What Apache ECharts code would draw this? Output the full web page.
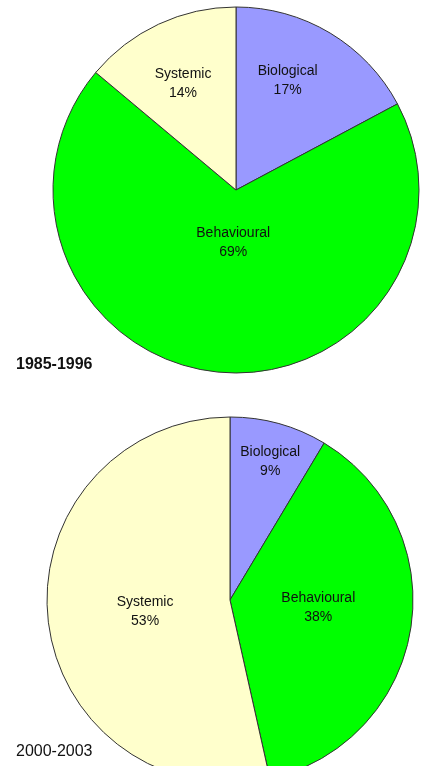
<!DOCTYPE html>
<html>
<head>
<meta charset="utf-8">
<script src="https://cdn.jsdelivr.net/npm/echarts@6/dist/echarts.min.js"></script>
<style>
  html, body { margin: 0; padding: 0; background: #fff; }
  #main { width: 421px; height: 766px; }
</style>
</head>
<body>
<div id="main"></div>
<script>
var categories = ['Biological', 'Behavioural', 'Systemic'];
var values1985 = [17.2, 68.9, 13.9];
var values2000 = [8.6, 37.9, 53.5];
var periods = ['1985-1996', '2000-2003'];
var colors = ['#9999FF', '#00FF00', '#FFFFCC'];

// nudge the inside labels to where the original sits them
var shiftTop = [[3, -28], [7, -41], [-13, -21]];
var shiftBottom = [[15, -47], [-5, -7], [9, 1]];

var myChart = echarts.init(document.getElementById('main'));

function toData(vals) {
    return categories.map(function (c, i) {
        return { name: c, value: vals[i], itemStyle: { color: colors[i] } };
    });
}

function pieSeries(vals, center, shift) {
    return {
        type: 'pie',
        center: center,
        radius: [0, 183],
        startAngle: 90,
        clockwise: true,
        percentPrecision: 0,
        avoidLabelOverlap: false,
        silent: true,
        itemStyle: { borderColor: '#333', borderWidth: 1 },
        label: {
            show: true,
            position: 'inside',
            formatter: '{b}\n{d}%',
            fontFamily: 'Liberation Sans, Arial, sans-serif',
            fontSize: 14,
            lineHeight: 19,
            color: '#111'
        },
        labelLine: { show: false },
        labelLayout: function (p) {
            return { dx: shift[p.dataIndex][0], dy: shift[p.dataIndex][1] };
        },
        emphasis: { disabled: true },
        data: toData(vals)
    };
}

var option = {
    animation: false,
    backgroundColor: '#fff',
    title: [
        {
            text: periods[0], left: 16, top: 357, padding: 0,
            textStyle: { fontFamily: 'Liberation Sans, Arial, sans-serif', fontSize: 16, fontWeight: 'bold', color: '#111' }
        },
        {
            text: periods[1], left: 16, top: 744, padding: 0,
            textStyle: { fontFamily: 'Liberation Sans, Arial, sans-serif', fontSize: 16, fontWeight: 'normal', color: '#111' }
        }
    ],
    series: [
        pieSeries(values1985, [236, 190], shiftTop),
        pieSeries(values2000, [230, 600], shiftBottom)
    ]
};

myChart.setOption(option);
</script>
</body>
</html>
